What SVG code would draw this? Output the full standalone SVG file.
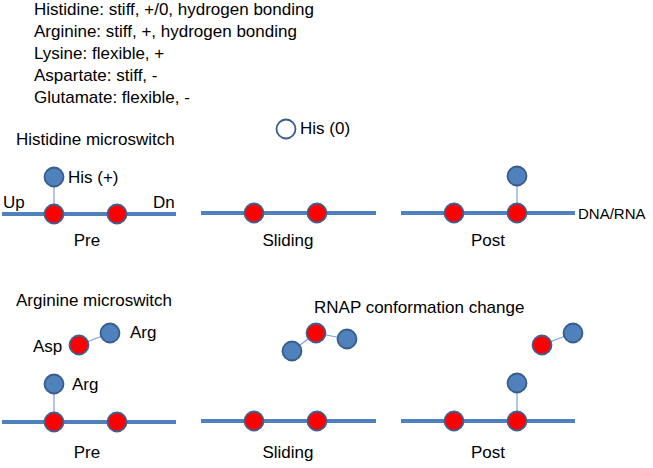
<svg xmlns="http://www.w3.org/2000/svg" width="653" height="468" viewBox="0 0 653 468">
<defs>
<style>
text{font-family:"Liberation Sans",Arial,sans-serif;font-size:17px;fill:#000}
.dna{stroke:#4F81BD;stroke-width:4;fill:none}
.link{stroke:#7F9FCF;stroke-width:1.2;fill:none}
.red{fill:#FF0000;stroke:#3F5F8F;stroke-width:1.8}
.blue{fill:#4F81BD;stroke:#385D8A;stroke-width:1.8}
.open{fill:#FFFFFF;stroke:#385D8A;stroke-width:1.8}
.mid{text-anchor:middle}
</style>
</defs>
<rect width="653" height="468" fill="#FFFFFF"/>
<g id="legend">
<text x="34" y="15">Histidine: stiff, +/0, hydrogen bonding</text>
<text x="34" y="37">Arginine: stiff, +, hydrogen bonding</text>
<text x="34" y="59">Lysine: flexible, +</text>
<text x="34" y="81">Aspartate: stiff, -</text>
<text x="34" y="103">Glutamate: flexible, -</text>
</g>
<g id="titles">
<text x="16" y="145">Histidine microswitch</text>
<text x="16" y="306">Arginine microswitch</text>
<text x="314" y="313">RNAP conformation change</text>
</g>
<g id="connectors">
<line class="dna" x1="2" y1="214" x2="176" y2="214"/>
<line class="dna" x1="201" y1="213" x2="376" y2="213"/>
<line class="dna" x1="401" y1="213" x2="575" y2="213"/>
<line class="dna" x1="2" y1="422" x2="176" y2="422"/>
<line class="dna" x1="201" y1="421" x2="376" y2="421"/>
<line class="dna" x1="401" y1="421" x2="575" y2="421"/>
<line class="link" x1="54" y1="177" x2="54" y2="214"/>
<line class="link" x1="517" y1="176" x2="517" y2="213"/>
<line class="link" x1="79" y1="345" x2="110" y2="333"/>
<line class="link" x1="54" y1="384" x2="54" y2="422"/>
<line class="link" x1="292" y1="351" x2="316" y2="333"/>
<line class="link" x1="316" y1="333" x2="347" y2="339"/>
<line class="link" x1="542" y1="345" x2="573" y2="333"/>
<line class="link" x1="517" y1="383" x2="517" y2="421"/>
</g>
<g id="his-pre">
<circle class="blue" cx="54" cy="177" r="9.5"/>
<circle class="red" cx="54" cy="214" r="9.5"/>
<circle class="red" cx="117" cy="214" r="9.5"/>
<text x="68" y="183">His (+)</text>
<text x="3" y="208">Up</text>
<text x="153" y="208">Dn</text>
<text x="87" y="246" class="mid">Pre</text>
</g>
<g id="his-sliding">
<circle class="open" cx="286" cy="129" r="9.5"/>
<text x="300" y="134">His (0)</text>
<circle class="red" cx="254" cy="213" r="9.5"/>
<circle class="red" cx="317" cy="213" r="9.5"/>
<text x="288" y="246" class="mid">Sliding</text>
</g>
<g id="his-post">
<circle class="blue" cx="517" cy="176" r="9.5"/>
<circle class="red" cx="454" cy="213" r="9.5"/>
<circle class="red" cx="517" cy="213" r="9.5"/>
<text x="578" y="219" style="font-size:15px">DNA/RNA</text>
<text x="488" y="246" class="mid">Post</text>
</g>
<g id="arg-pre">
<circle class="red" cx="79" cy="345" r="9.5"/>
<circle class="blue" cx="110" cy="333" r="9.5"/>
<text x="33" y="352">Asp</text>
<text x="130" y="338">Arg</text>
<circle class="blue" cx="54" cy="384" r="9.5"/>
<text x="72" y="390">Arg</text>
<circle class="red" cx="54" cy="422" r="9.5"/>
<circle class="red" cx="117" cy="422" r="9.5"/>
<text x="87" y="458" class="mid">Pre</text>
</g>
<g id="arg-sliding">
<circle class="blue" cx="292" cy="351" r="9.5"/>
<circle class="red" cx="316" cy="333" r="9.5"/>
<circle class="blue" cx="347" cy="339" r="9.5"/>
<circle class="red" cx="254" cy="421" r="9.5"/>
<circle class="red" cx="317" cy="421" r="9.5"/>
<text x="288" y="458" class="mid">Sliding</text>
</g>
<g id="arg-post">
<circle class="red" cx="542" cy="345" r="9.5"/>
<circle class="blue" cx="573" cy="333" r="9.5"/>
<circle class="blue" cx="517" cy="383" r="9.5"/>
<circle class="red" cx="454" cy="421" r="9.5"/>
<circle class="red" cx="517" cy="421" r="9.5"/>
<text x="488" y="458" class="mid">Post</text>
</g>
</svg>
